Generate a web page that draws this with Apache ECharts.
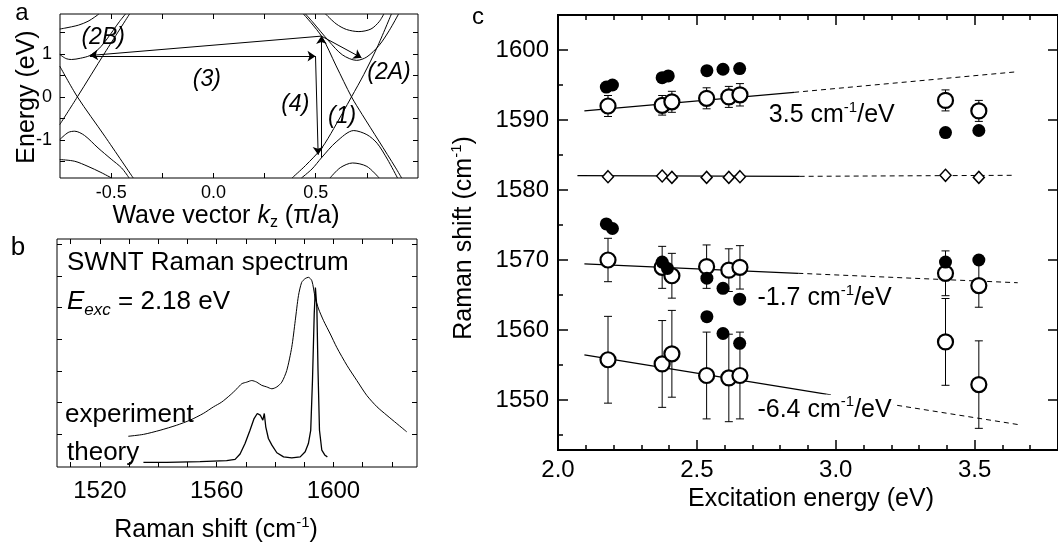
<!DOCTYPE html>
<html><head><meta charset="utf-8">
<script src="https://cdn.jsdelivr.net/npm/echarts@6.0.0/dist/echarts.min.js"></script>
<style>html,body{margin:0;padding:0;background:#fff}#c{width:1058px;height:547px}</style>
</head><body><div id="c"></div>
<script>
// ---------- Panel a : band structure ----------
const aTickX = [-0.5, -0.25, 0, 0.25, 0.5, 0.75];
const aLabelX = [-0.5, 0, 0.5];
const aTickY = [-1.5, -1, -0.5, 0, 0.5, 1, 1.5];
const aLabelY = [-1, 0, 1];
const bandLeftDown = [[-0.751,0.715],[-0.665,0.0],[-0.531,-0.917],[-0.392,-1.89]];
const bandLeftUp = [[-0.751,-0.645],[-0.665,0.0],[-0.531,1.026],[-0.41,1.93]];
const bandLeftC1 = [[-0.751,0.986],[-0.72,0.89],[-0.694,0.87],[-0.65,0.9],[-0.604,0.963],[-0.56,1.12],[-0.52,1.35],[-0.46,1.75],[-0.43,1.93]];
const bandLeftC2 = [[-0.751,1.58],[-0.727,1.6],[-0.66,1.67],[-0.613,1.76],[-0.58,1.86],[-0.56,1.93]];
const bandLeftV1 = [[-0.751,-0.995],[-0.71,-0.83],[-0.678,-0.80],[-0.63,-0.9],[-0.564,-1.19],[-0.5,-1.45],[-0.449,-1.655],[-0.412,-1.89]];
const bandLeftV2 = [[-0.751,-1.46],[-0.678,-1.50],[-0.613,-1.62],[-0.55,-1.76],[-0.498,-1.89]];
const bandRightDown = [[0.44,1.93],[0.528,1.415],[0.6,0.72],[0.675,0.0],[0.727,-0.41],[0.809,-1.03],[0.891,-1.655],[0.92,-1.89]];
const bandRightUp = [[0.384,-1.89],[0.45,-1.6],[0.528,-1.2],[0.588,-0.74],[0.675,0.0],[0.735,0.52],[0.8,1.15],[0.87,1.93]];
const bandRightC1 = [[0.45,1.93],[0.482,1.76],[0.564,1.30],[0.63,0.98],[0.70,0.85],[0.75,0.93],[0.81,1.2],[0.86,1.55],[0.905,1.93]];
const bandRightC2 = [[0.548,1.93],[0.6,1.7],[0.65,1.57],[0.711,1.52],[0.77,1.58],[0.81,1.75],[0.833,1.93]];
const bandRightV1 = [[0.43,-1.89],[0.482,-1.68],[0.528,-1.42],[0.6,-1.05],[0.686,-0.785],[0.75,-0.88],[0.8,-1.08],[0.85,-1.45],[0.9,-1.89]];
const bandRightV2 = [[0.57,-1.89],[0.62,-1.65],[0.68,-1.54],[0.75,-1.62],[0.81,-1.89]];
const arrowSegs = [
  [[0.528,-1.42],[0.528,1.415]],
  [[0.528,1.415],[0.724,0.909]],
  [[0.528,1.415],[-0.604,0.963]],
  [[-0.604,0.948],[0.499,0.948]],
  [[0.499,0.948],[0.512,-1.35]]
];
const transLabels = ['(2B)', '(3)', '(4)', '(1)', '(2A)'];
const transLabelPos = [[-0.539,1.375],[-0.032,0.40],[0.40,-0.18],[0.629,-0.45],[0.858,0.56]];

// ---------- Panel b : spectra ----------
const bTickX = [1510,1520,1530,1540,1550,1560,1570,1580,1590,1600,1610,1620];
const bLabelX = [1520, 1560, 1600];
const bTickY = [1,2,3,4,5,6,7];
const expSpectrum = [[1529.7,0.94],[1534.9,1.0],[1540.6,1.13],[1546.3,1.29],[1550.9,1.45],[1555.4,1.66],[1558.9,1.87],[1561.7,2.02],[1564.6,2.24],[1566.9,2.44],[1568.6,2.60],[1570.3,2.65],[1572.0,2.70],[1573.7,2.65],[1575.4,2.55],[1577.1,2.50],[1578.9,2.44],[1580.6,2.50],[1582.3,2.65],[1584.0,3.02],[1585.7,3.75],[1586.9,4.59],[1588.0,5.38],[1589.1,5.80],[1590.3,5.92],[1591.4,5.96],[1592.6,5.85],[1593.7,5.33],[1594.9,4.96],[1596.6,4.59],[1598.9,4.17],[1601.1,3.75],[1604.6,3.18],[1608.0,2.70],[1611.4,2.23],[1614.9,1.87],[1618.3,1.60],[1621.7,1.34],[1625.1,1.08]];
const theorySpectrum = [[1534.9,0.115],[1542.9,0.115],[1554.3,0.14],[1563.4,0.17],[1566.3,0.21],[1568.0,0.38],[1569.7,0.71],[1571.4,1.13],[1572.8,1.50],[1573.9,1.66],[1574.9,1.61],[1575.8,1.45],[1576.3,1.66],[1576.8,1.24],[1577.7,0.87],[1578.9,0.66],[1580.6,0.42],[1582.9,0.29],[1585.7,0.26],[1588.6,0.29],[1590.3,0.45],[1591.4,0.71],[1592.2,1.13],[1592.8,2.70],[1593.4,4.80],[1593.8,5.64],[1594.3,5.01],[1594.7,3.02],[1595.2,1.13],[1596.0,0.50],[1597.1,0.34],[1597.9,0.29]];

// ---------- Panel c : dispersion ----------
const cMajorX = [2.0, 2.5, 3.0, 3.5];
const cMinorX = [2.1,2.2,2.3,2.4,2.6,2.7,2.8,2.9,3.1,3.2,3.3,3.4,3.6,3.7];
const cLabelX = [2.0, 2.5, 3.0, 3.5];
const cMajorY = [1550, 1560, 1570, 1580, 1590, 1600];
const cMinorY = [1545, 1555, 1565, 1575, 1585, 1595, 1605];
const eExc = [2.18, 2.375, 2.41, 2.535, 2.615, 2.655, 3.395, 3.515];
const upperOpen = [1592.0, 1592.1, 1592.6, 1593.1, 1593.3, 1593.6, 1592.8, 1591.3];
const upperErr = [1.5, 1.4, 1.5, 1.5, 1.5, 1.6, 1.5, 1.5];
const midOpen = [1570.0, 1568.95, 1567.75, 1569.05, 1568.55, 1568.95, 1568.1, 1566.35];
const midErr = [3.1, 3.0, 3.2, 3.1, 3.05, 3.1, 3.2, 3.1];
const lowOpen = [1555.75, 1555.15, 1556.6, 1553.5, 1553.15, 1553.5, 1558.3, 1552.2];
const lowErr = [6.2, 6.2, 6.2, 6.2, 6.25, 6.2, 6.2, 6.25];
const diamondVals = [1581.9, 1582.0, 1581.8, 1581.8, 1581.8, 1581.9, 1582.1, 1581.8];
const filledUpperE = [2.174, 2.196, 2.375, 2.397, 2.536, 2.594, 2.654, 3.395, 3.515];
const filledUpper = [1594.7, 1595.0, 1596.05, 1596.3, 1597.05, 1597.25, 1597.35, 1588.2, 1588.5];
const filledMidE = [2.174, 2.196, 2.375, 2.394, 2.536, 2.594, 2.654, 3.395, 3.515];
const filledMid = [1575.15, 1574.5, 1569.7, 1568.8, 1567.4, 1565.95, 1564.4, 1569.7, 1570.0];
const filledLowE = [2.536, 2.594, 2.654];
const filledLow = [1561.9, 1559.5, 1558.1];
const fitSolid = [
  [[2.095,1591.3],[2.85,1593.95]],
  [[2.07,1582.05],[2.87,1581.95]],
  [[2.095,1569.45],[2.865,1568.1]],
  [[2.095,1556.45],[2.965,1550.85]]
];
const fitDashed = [
  [[2.85,1593.95],[3.655,1596.9]],
  [[2.87,1581.95],[3.64,1582.1]],
  [[2.865,1568.1],[3.655,1566.75]],
  [[2.965,1550.85],[3.655,1546.5]]
];
const slopeTexts = ['3.5', '-1.7', '-6.4'];
const slopePos = [[2.759,1590.7],[2.718,1564.5],[2.718,1548.6]];

// ---------- build ----------
const FONT = '"Liberation Sans", Arial, Helvetica, sans-serif';
function tick(vals, len, w) {
  return {show: true, inside: true, length: len, customValues: vals, lineStyle: {color: '#000', width: w || 1}};
}
function axis(grid, pos, min, max, ticks, len, label, w) {
  return {type: 'value', gridIndex: grid, position: pos, min: min, max: max,
    axisLine: {show: false, onZero: false}, splitLine: {show: false}, splitArea: {show: false},
    minorTick: {show: false}, axisTick: tick(ticks, len, w), axisLabel: label || {show: false}};
}
function lab(vals, size, margin, fmt) {
  return {show: true, customValues: vals, color: '#000', fontSize: size, fontFamily: FONT, margin: margin, formatter: fmt};
}
const f1 = v => Number(v).toFixed(1);
const f0 = v => String(Math.round(v));

const xAxis = [
  axis(0, 'bottom', -0.75, 1.0, aTickX, 5, lab(aLabelX, 18, 6, f1)),
  axis(0, 'top', -0.75, 1.0, aTickX, 5),
  axis(1, 'bottom', 1505.3, 1628.6, bTickX, 5, lab(bLabelX, 24, 12, f0)),
  axis(1, 'top', 1505.3, 1628.6, bTickX, 5),
  axis(2, 'bottom', 2.0, 3.8, cMajorX, 10, lab(cLabelX, 24, 8, f1), 1.5),
  axis(2, 'bottom', 2.0, 3.8, cMinorX, 5, null, 1.5),
  axis(2, 'top', 2.0, 3.8, cMajorX, 10, null, 1.5),
  axis(2, 'top', 2.0, 3.8, cMinorX, 5, null, 1.5)
];
const yAxis = [
  axis(0, 'left', -1.89, 1.93, aTickY, 5, lab(aLabelY, 18, 8, f0)),
  axis(0, 'right', -1.89, 1.93, aTickY, 5),
  axis(1, 'left', -0.03, 7.17, bTickY, 5),
  axis(1, 'right', -0.03, 7.17, bTickY, 5),
  axis(2, 'left', 1542.857, 1605, cMajorY, 10, lab(cMajorY, 24, 9, f0), 1.5),
  axis(2, 'left', 1542.857, 1605, cMinorY, 5, null, 1.5),
  axis(2, 'right', 1542.857, 1605, cMajorY, 10, null, 1.5)
];

const series = [];
[bandLeftDown, bandLeftUp, bandLeftC1, bandLeftC2, bandLeftV1, bandLeftV2,
 bandRightDown, bandRightUp, bandRightC1, bandRightC2, bandRightV1, bandRightV2].forEach(b => {
  series.push({type: 'line', xAxisIndex: 0, yAxisIndex: 0, data: b, symbol: 'none', smooth: 0.3,
    lineStyle: {color: '#000', width: 1}, clip: true, silent: true, z: 2});
});
series.push({type: 'lines', coordinateSystem: 'cartesian2d', xAxisIndex: 0, yAxisIndex: 0,
  symbol: ['none', 'arrow'], symbolSize: 8, silent: true, z: 3,
  lineStyle: {color: '#000', width: 1, opacity: 1, curveness: 0},
  data: arrowSegs.map(s => ({coords: s}))});
series.push({type: 'scatter', xAxisIndex: 0, yAxisIndex: 0, symbolSize: 0, silent: true, z: 4,
  itemStyle: {color: 'rgba(0,0,0,0)', opacity: 1},
  label: {show: true, position: 'inside', formatter: '{b}', fontStyle: 'italic', fontSize: 23, fontFamily: FONT, color: '#000', opacity: 1},
  data: transLabels.map((t, i) => ({name: t, value: transLabelPos[i]}))});

series.push({type: 'line', xAxisIndex: 2, yAxisIndex: 2, data: expSpectrum, symbol: 'none', smooth: 0.25,
  lineStyle: {color: '#000', width: 1}, silent: true, z: 2});
series.push({type: 'line', xAxisIndex: 2, yAxisIndex: 2, data: theorySpectrum, symbol: 'none', smooth: false,
  lineStyle: {color: '#000', width: 1.3}, silent: true, z: 2});

fitSolid.forEach(s => series.push({type: 'line', xAxisIndex: 4, yAxisIndex: 4, data: s, symbol: 'none',
  lineStyle: {color: '#000', width: 1.2}, silent: true, z: 2}));
fitDashed.forEach(s => series.push({type: 'line', xAxisIndex: 4, yAxisIndex: 4, data: s, symbol: 'none',
  lineStyle: {color: '#000', width: 1, type: [5, 4]}, silent: true, z: 2}));

const errRows = [];
[[upperOpen, upperErr], [midOpen, midErr], [lowOpen, lowErr]].forEach(([vals, errs]) =>
  vals.forEach((v, i) => errRows.push([eExc[i], v - errs[i], v + errs[i]])));
series.push({type: 'custom', xAxisIndex: 4, yAxisIndex: 4, silent: true, z: 3, data: errRows,
  encode: {x: 0, y: [1, 2]},
  renderItem: function (params, api) {
    const x = api.value(0);
    const p1 = api.coord([x, api.value(1)]);
    const p2 = api.coord([x, api.value(2)]);
    const w = 4, st = {stroke: '#000', lineWidth: 1};
    return {type: 'group', children: [
      {type: 'line', shape: {x1: p1[0], y1: p1[1], x2: p2[0], y2: p2[1]}, style: st},
      {type: 'line', shape: {x1: p1[0] - w, y1: p1[1], x2: p1[0] + w, y2: p1[1]}, style: st},
      {type: 'line', shape: {x1: p2[0] - w, y1: p2[1], x2: p2[0] + w, y2: p2[1]}, style: st}
    ]};
  }});
series.push({type: 'scatter', xAxisIndex: 4, yAxisIndex: 4, symbol: 'diamond', symbolSize: [11, 12], silent: true, z: 4,
  itemStyle: {color: '#fff', borderColor: '#000', borderWidth: 1.5, opacity: 1},
  data: diamondVals.map((v, i) => [eExc[i], v])});
const openPts = [];
[upperOpen, midOpen, lowOpen].forEach(arr => arr.forEach((v, i) => openPts.push([eExc[i], v])));
series.push({type: 'scatter', xAxisIndex: 4, yAxisIndex: 4, symbol: 'circle', symbolSize: 15, silent: true, z: 5,
  itemStyle: {color: '#fff', borderColor: '#000', borderWidth: 2.2, opacity: 1}, data: openPts});
const filledPts = [];
filledUpper.forEach((v, i) => filledPts.push([filledUpperE[i], v]));
filledMid.forEach((v, i) => filledPts.push([filledMidE[i], v]));
filledLow.forEach((v, i) => filledPts.push([filledLowE[i], v]));
series.push({type: 'scatter', xAxisIndex: 4, yAxisIndex: 4, symbol: 'circle', symbolSize: 13, silent: true, z: 6,
  itemStyle: {color: '#000', opacity: 1}, data: filledPts});
series.push({type: 'scatter', xAxisIndex: 4, yAxisIndex: 4, symbolSize: 0, silent: true, z: 7,
  itemStyle: {color: 'rgba(0,0,0,0)', opacity: 1},
  label: {show: true, position: 'right', distance: 0, color: '#000', opacity: 1, fontFamily: FONT, fontSize: 25,
    backgroundColor: '#fff', padding: [0, 2, 0, 0],
    formatter: p => '{n|' + p.name + ' cm}{s|-1}{n|/eV}',
    rich: {n: {fontSize: 25, fontFamily: FONT, color: '#000', lineHeight: 30, verticalAlign: 'middle'},
           s: {fontSize: 15, fontFamily: FONT, color: '#000', lineHeight: 15, verticalAlign: 'top'}}},
  data: slopeTexts.map((t, i) => ({name: t, value: slopePos[i]}))});

function txt(x, y, text, size, extra) {
  return Object.assign({type: 'text', x: x, y: y, silent: true, z: 10,
    style: Object.assign({text: text, fontSize: size, fontFamily: FONT, fill: '#000', align: 'center', verticalAlign: 'middle'}, (extra && extra.style) || {})},
    extra && extra.rotation ? {rotation: extra.rotation} : {});
}
const supRich = {s: {fontSize: 15, fontFamily: FONT, fill: '#000', lineHeight: 15, verticalAlign: 'top'}};
const graphic = [
  txt(22, 13, 'a', 24),
  txt(18, 248, 'b', 26),
  txt(478, 17, 'c', 24),
  txt(27, 97, 'Energy (eV)', 25, {rotation: Math.PI / 2}),
  txt(226, 216, 'Wave vector {i|k}{sub|z} (π/a)', 25, {style: {lineHeight: 30, rich: {
    i: {fontSize: 25, fontFamily: FONT, fontStyle: 'italic', fill: '#000', lineHeight: 30},
    sub: {fontSize: 16, fontFamily: FONT, fill: '#000', lineHeight: 16, verticalAlign: 'bottom'}}}}),
  txt(216, 530, 'Raman shift (cm{s|-1})', 25, {style: {lineHeight: 30, rich: supRich}}),
  txt(67, 263, 'SWNT Raman spectrum', 26, {style: {align: 'left'}}),
  txt(67, 302, '{i|E}{sub|exc} = 2.18 eV', 26, {style: {align: 'left', lineHeight: 34, rich: {
    i: {fontSize: 26, fontFamily: FONT, fontStyle: 'italic', fill: '#000', lineHeight: 34},
    sub: {fontSize: 17, fontFamily: FONT, fontStyle: 'italic', fill: '#000', lineHeight: 17, verticalAlign: 'bottom'}}}}),
  txt(65, 415, 'experiment', 26, {style: {align: 'left'}}),
  txt(67, 453, 'theory', 26, {style: {align: 'left'}}),
  txt(464, 238, 'Raman shift (cm{s|-1})', 25, {rotation: Math.PI / 2, style: {lineHeight: 30, rich: supRich}}),
  txt(811, 499, 'Excitation energy (eV)', 25)
];

const chart = echarts.init(document.getElementById('c'), null, {renderer: 'canvas'});
chart.setOption({
  animation: false,
  backgroundColor: '#fff',
  textStyle: {fontFamily: FONT},
  grid: [
    {left: 60, top: 14, width: 358, height: 164, show: true, borderColor: '#000', borderWidth: 1, backgroundColor: 'transparent', containLabel: false},
    {left: 57, top: 239, width: 360, height: 228, show: true, borderColor: '#000', borderWidth: 1, backgroundColor: 'transparent', containLabel: false},
    {left: 558, top: 15, width: 509, height: 435, show: true, borderColor: '#000', borderWidth: 2, backgroundColor: 'transparent', containLabel: false}
  ],
  xAxis: xAxis,
  yAxis: yAxis,
  series: series,
  graphic: graphic
});
</script></body></html>
